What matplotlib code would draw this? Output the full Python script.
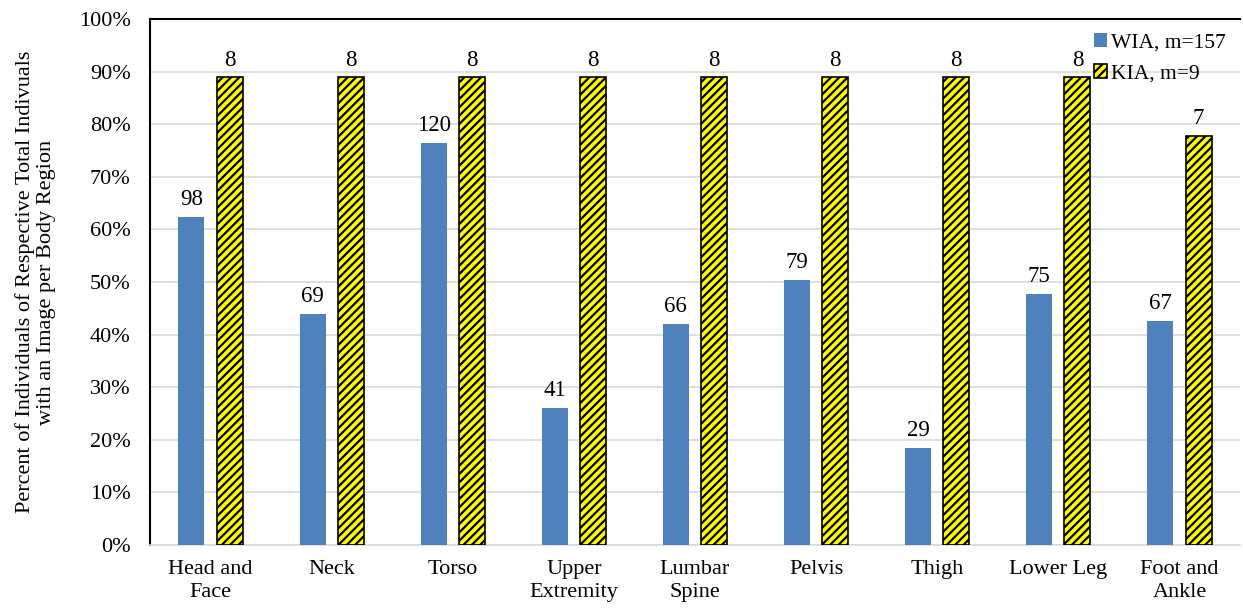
import numpy as np
import matplotlib
matplotlib.use("Agg")
import matplotlib.pyplot as plt
from matplotlib.ticker import PercentFormatter

plt.rcParams['font.family'] = ['Liberation Serif', 'DejaVu Serif']
plt.rcParams['hatch.linewidth'] = 1.6

# data
regions = ["Head and\nFace", "Neck", "Torso", "Upper\nExtremity", "Lumbar\nSpine",
           "Pelvis", "Thigh", "Lower Leg", "Foot and\nAnkle"]
wia_counts = [98, 69, 120, 41, 66, 79, 29, 75, 67]
kia_counts = [8, 8, 8, 8, 8, 8, 8, 8, 7]
wia_total = 157
kia_total = 9

wia_pct = [c / wia_total * 100 for c in wia_counts]
kia_pct = [c / kia_total * 100 for c in kia_counts]

fig = plt.figure(figsize=(12.43, 6.10), dpi=100)
ax = fig.add_axes([150 / 1243, 65 / 610, 1090 / 1243, 526 / 610])

x = np.arange(len(regions))
w = 0.215
off = 0.158

b1 = ax.bar(x - off, wia_pct, w, color='#4F81BD', label='WIA, m=157', zorder=3)
b2 = ax.bar(x + off, kia_pct, w, color='#FFFF00', edgecolor='black', linewidth=1.2,
            hatch='////', label='KIA, m=9', zorder=3)

for rect, c in zip(b1, wia_counts):
    ax.annotate(str(c), (rect.get_x() + rect.get_width() / 2, rect.get_height()),
                xytext=(0, 5), textcoords='offset points', ha='center', va='bottom', fontsize=16.5)
for rect, c in zip(b2, kia_counts):
    ax.annotate(str(c), (rect.get_x() + rect.get_width() / 2, rect.get_height()),
                xytext=(0, 5), textcoords='offset points', ha='center', va='bottom', fontsize=16.5)

ax.set_xlim(-0.5, len(regions) - 0.5)
ax.set_ylim(0, 100)
ax.set_yticks(np.arange(0, 101, 10))
ax.yaxis.set_major_formatter(PercentFormatter(decimals=0))
ax.set_xticks(x)
ax.set_xticklabels(regions, fontsize=16, linespacing=1.25)
ax.tick_params(axis='y', labelsize=16, length=0, pad=14)
ax.tick_params(axis='x', length=0, pad=11)
ax.grid(axis='y', color='#D9D9D9', linewidth=1.2, zorder=0)

ax.spines['left'].set_color('black')
ax.spines['left'].set_linewidth(1.5)
ax.spines['top'].set_color('black')
ax.spines['top'].set_linewidth(1.5)
ax.spines['right'].set_visible(False)
ax.spines['bottom'].set_color('#D9D9D9')
ax.spines['bottom'].set_linewidth(1.2)

ax.set_ylabel("Percent of Individuals of Respective Total Indivuals\nwith an Image per Body Region",
              fontsize=16, labelpad=16, linespacing=1.15)

ax.legend(loc='upper right', bbox_to_anchor=(1.0, 1.0), frameon=False, fontsize=15.5,
          handlelength=0.6, handleheight=0.6, handletextpad=0.2, labelspacing=0.55,
          borderaxespad=0.25)

fig.savefig("out.png", dpi=100)
